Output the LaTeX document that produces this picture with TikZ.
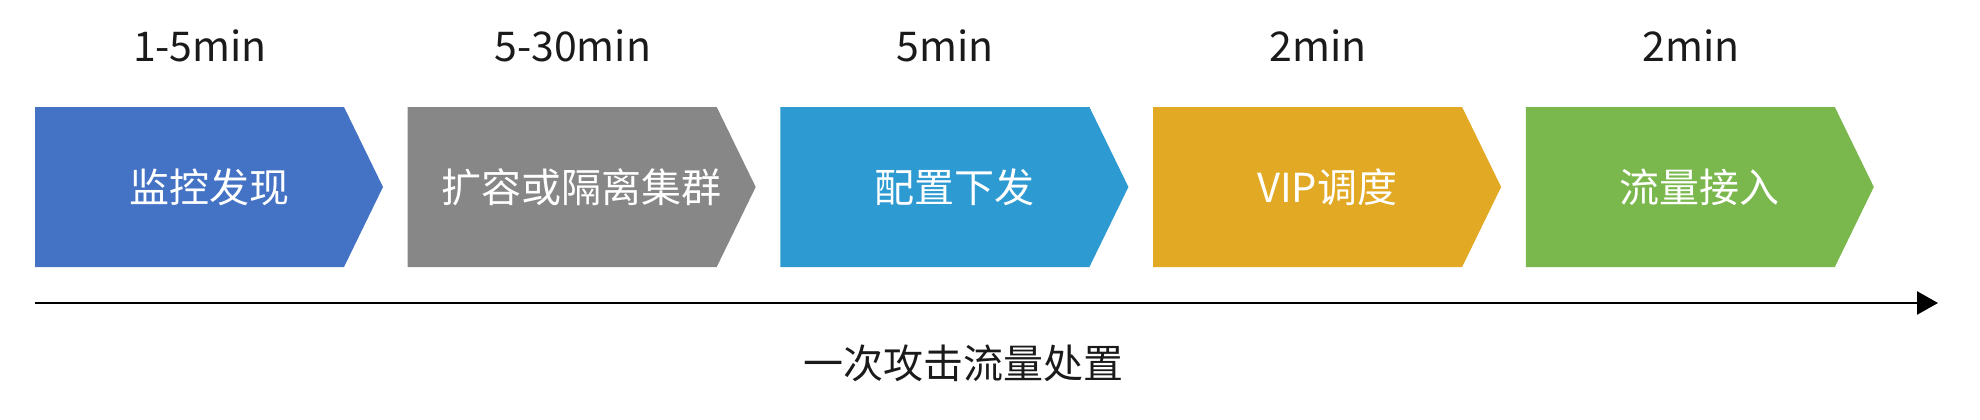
\documentclass[tikz,border=0pt]{standalone}
\usepackage{fontspec}
\setmainfont{Noto Sans CJK SC}
\usetikzlibrary{arrows.meta}

\definecolor{cmonitor}{HTML}{4472C4}
\definecolor{cexpand}{HTML}{878787}
\definecolor{cconfig}{HTML}{2E9AD2}
\definecolor{cvip}{HTML}{E1A924}
\definecolor{caccess}{HTML}{7AB74D}
\definecolor{ctext}{HTML}{1A1A1A}

\begin{document}
\begin{tikzpicture}[x=1pt,y=-1pt]

\def\pitch{372.7}
\def\boxw{309}
\def\tipw{39}
\def\boxh{160}

\tikzset{stagelabel/.style = {text=white, font=\fontsize{40}{48}\selectfont, inner sep=0pt},
         timelabel/.style = {text=ctext, font=\fontsize{41}{49}\selectfont, anchor=base, inner sep=0pt},
         axis/.style = {line width=2.6pt, -{Triangle[length=21pt,width=23pt]}}}

\useasboundingbox (0,0) rectangle (1980,420);

\foreach \i/\col/\txt/\tm in {0/cmonitor/监控发现/1-5min, 1/cexpand/扩容或隔离集群/5-30min,
    2/cconfig/配置下发/5min, 3/cvip/VIP调度/2min, 4/caccess/流量接入/2min} {
  \coordinate (S\i) at (35+\i*\pitch,107);
  \fill[\col] (S\i) -- ++(\boxw,0) -- ++(\tipw,\boxh/2) -- ++(-\tipw,\boxh/2) -- ++(-\boxw,0) -- cycle;
  \path (S\i) node[stagelabel] (L\i) at +(174,80) {\txt};
  \path (S\i) node[timelabel] (T\i) at +(165,-45) {\tm};
}

\coordinate (A0) at (35,303);
\coordinate (A1) at (1938,303);
\draw[axis] (A0) -- (A1);

\node[text=ctext, font=\fontsize{40}{48}\selectfont, inner sep=0pt] (total) at (963,363) {一次攻击流量处置};

\end{tikzpicture}
\end{document}
